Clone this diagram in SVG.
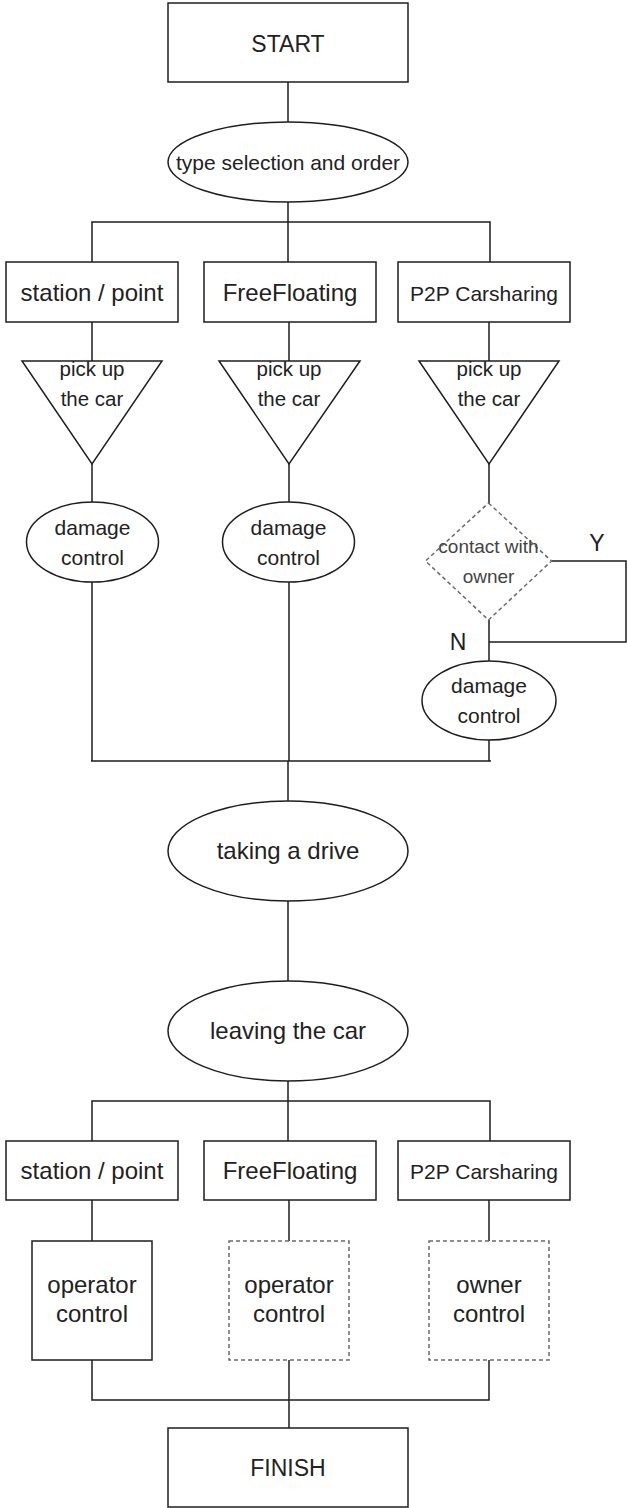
<svg xmlns="http://www.w3.org/2000/svg" width="627" height="1508" viewBox="0 0 627 1508">
<style>
.s{fill:#fff;stroke:#1e1e1e;stroke-width:1.5}
.d{fill:#fff;stroke:#6a6a6a;stroke-width:1.5;stroke-dasharray:4 3}
.c{fill:none;stroke:#1e1e1e;stroke-width:1.5}
text{font-family:"Liberation Sans",Arial,sans-serif;fill:#222;text-anchor:middle}
.t24{font-size:24px}
.t23{font-size:23px}
.t21{font-size:21px}
.t20{font-size:20.5px}
.t19{font-size:19px;fill:#444}
</style>
<rect width="627" height="1508" fill="#fff"/>
<g id="connectors">
<path class="c" d="M288 82V122M288 202V222M92 262V222H490V262M288 222V262"/>
<path class="c" d="M92 322V361M289 322V361M489 322V361"/>
<path class="c" d="M92 464V502M289 464V502M489 464V503"/>
<path class="c" d="M92 582V761M289 582V761M489 620V661M489 740V761M91 761H491"/>
<path class="c" d="M552 561H626V642H489"/>
<path class="c" d="M288 761V801M288 901V981M288 1081V1101M92 1141V1101H490V1141M288 1101V1141"/>
<path class="c" d="M92 1200V1241M289 1200V1241M489 1200V1241"/>
<path class="c" d="M92 1360V1400H489V1360M289 1360V1428"/>
<text class="t23" x="597" y="551">Y</text>
<text class="t23" x="458" y="650">N</text>
</g>
<g id="start"><rect class="s" x="168" y="3" width="240" height="79"/><text class="t23" x="288" y="52">START</text></g>
<g id="type-selection"><ellipse class="s" cx="288" cy="162" rx="120" ry="40"/><text class="t21" x="288" y="170">type selection and order</text></g>
<g id="station-1"><rect class="s" x="6" y="262" width="172" height="60"/><text class="t24" x="92" y="301">station / point</text></g>
<g id="freefloating-1"><rect class="s" x="204" y="262" width="172" height="60"/><text class="t24" x="290" y="301">FreeFloating</text></g>
<g id="p2p-1"><rect class="s" x="398" y="262" width="172" height="60"/><text class="t21" x="484" y="301">P2P Carsharing</text></g>
<g id="pickup-1"><polygon class="s" points="22,361 162,361 92,464"/><text class="t20" x="92" y="376">pick up</text><text class="t20" x="92" y="406">the car</text></g>
<g id="pickup-2"><polygon class="s" points="219,361 360,361 289,464"/><text class="t20" x="289" y="376">pick up</text><text class="t20" x="289" y="406">the car</text></g>
<g id="pickup-3"><polygon class="s" points="419,361 559,361 489,464"/><text class="t20" x="489" y="376">pick up</text><text class="t20" x="489" y="406">the car</text></g>
<g id="damage-1"><ellipse class="s" cx="92.5" cy="542" rx="66" ry="40"/><text class="t21" x="92.5" y="535">damage</text><text class="t21" x="92.5" y="565">control</text></g>
<g id="damage-2"><ellipse class="s" cx="288.5" cy="542" rx="66" ry="40"/><text class="t21" x="288.5" y="535">damage</text><text class="t21" x="288.5" y="565">control</text></g>
<g id="contact-owner"><polygon class="d" points="488.5,503 551.5,561 488.5,620 425.5,561"/><text class="t19" x="488.5" y="553">contact with</text><text class="t19" x="488.5" y="583">owner</text></g>
<g id="damage-3"><ellipse class="s" cx="489" cy="700.5" rx="67" ry="39.5"/><text class="t21" x="489" y="693">damage</text><text class="t21" x="489" y="723">control</text></g>
<g id="taking-drive"><ellipse class="s" cx="288" cy="851" rx="120" ry="50"/><text class="t24" x="288" y="859">taking a drive</text></g>
<g id="leaving-car"><ellipse class="s" cx="288" cy="1031" rx="120" ry="50"/><text class="t24" x="288" y="1039">leaving the car</text></g>
<g id="station-2"><rect class="s" x="6" y="1141" width="172" height="59"/><text class="t24" x="92" y="1179">station / point</text></g>
<g id="freefloating-2"><rect class="s" x="204" y="1141" width="172" height="59"/><text class="t24" x="290" y="1179">FreeFloating</text></g>
<g id="p2p-2"><rect class="s" x="398" y="1141" width="172" height="59"/><text class="t21" x="484" y="1179">P2P Carsharing</text></g>
<g id="operator-control-1"><rect class="s" x="32" y="1241" width="120" height="119"/><text class="t24" x="92" y="1293">operator</text><text class="t24" x="92" y="1322">control</text></g>
<g id="operator-control-2"><rect class="d" x="229" y="1241" width="120" height="119"/><text class="t24" x="289" y="1293">operator</text><text class="t24" x="289" y="1322">control</text></g>
<g id="owner-control"><rect class="d" x="429" y="1241" width="120" height="119"/><text class="t24" x="489" y="1293">owner</text><text class="t24" x="489" y="1322">control</text></g>
<g id="finish"><rect class="s" x="168" y="1428" width="240" height="79"/><text class="t23" x="288" y="1476">FINISH</text></g>
</svg>
